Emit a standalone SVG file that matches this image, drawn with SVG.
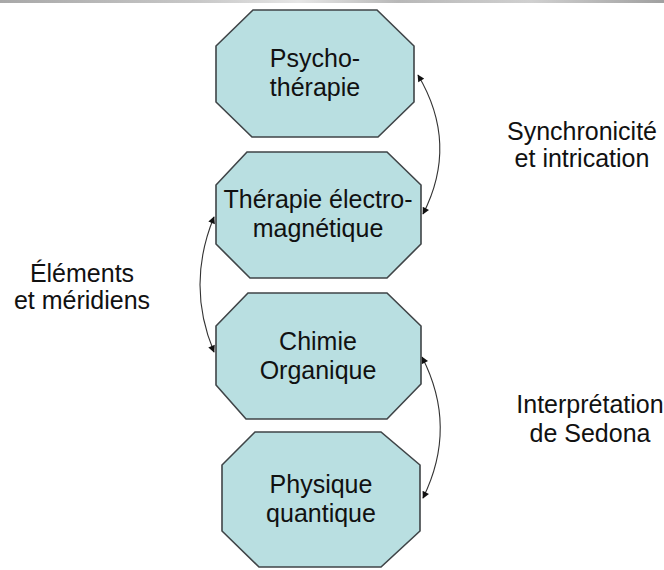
<svg xmlns="http://www.w3.org/2000/svg" width="664" height="570" viewBox="0 0 664 570">
<style>
.node{fill:#b9dfe1;stroke:#3f4447;stroke-width:1.6;stroke-linejoin:miter}
.t{font-family:"Liberation Sans",Arial,sans-serif;font-size:25px;fill:#111;text-anchor:middle}
.c{fill:none;stroke:#333;stroke-width:1.1}
</style>
<defs>
<linearGradient id="band" x1="0" x2="1" y1="0" y2="0">
<stop offset="0" stop-color="#a8a8a8"/>
<stop offset="0.3" stop-color="#c8c8c8"/>
<stop offset="0.45" stop-color="#e6e6e6"/>
<stop offset="0.6" stop-color="#b8b8b8"/>
<stop offset="0.8" stop-color="#d0d0d0"/>
<stop offset="1" stop-color="#a0a0a0"/>
</linearGradient>
<marker id="ah" viewBox="0 0 10 10" refX="9" refY="5" markerWidth="8" markerHeight="7" markerUnits="userSpaceOnUse" orient="auto-start-reverse">
<path d="M0,0 L10,5 L0,10 z" fill="#111"/>
</marker>
</defs>
<rect width="664" height="570" fill="#fff"/>
<rect x="0" y="0" width="664" height="3" fill="url(#band)"/>
<g id="connectors">
<path class="c" d="M418,75 Q459,144 423,214" marker-start="url(#ah)" marker-end="url(#ah)"/>
<path class="c" d="M214,217 Q186,285 214,352" marker-start="url(#ah)" marker-end="url(#ah)"/>
<path class="c" d="M422,357 Q458,427 423,498" marker-start="url(#ah)" marker-end="url(#ah)"/>
</g>
<g id="psychotherapie">
<polygon class="node" points="253,10 377,10 414,46 414,102 378,137 252,137 216,102 216,46"/>
<text class="t" x="315" y="67">Psycho-</text>
<text class="t" x="315" y="96">thérapie</text>
</g>
<g id="therapie-electromagnetique">
<polygon class="node" points="247,152 387,152 421,185 421,244 387,278 250,278 216,244 216,185"/>
<text class="t" x="318" y="208">Thérapie électro-</text>
<text class="t" x="318" y="237">magnétique</text>
</g>
<g id="chimie-organique">
<polygon class="node" points="248,293 387,293 421,326 421,384 387,419 246,419 216,385 216,326"/>
<text class="t" x="318" y="350">Chimie</text>
<text class="t" x="318" y="379">Organique</text>
</g>
<g id="physique-quantique">
<polygon class="node" points="255,432 381,432 420,465 420,531 381,567 259,567 222,531 222,465"/>
<text class="t" x="321" y="493">Physique</text>
<text class="t" x="321" y="522">quantique</text>
</g>
<g id="label-synchronicite">
<text class="t" x="582" y="140">Synchronicité</text>
<text class="t" x="582" y="167">et intrication</text>
</g>
<g id="label-elements">
<text class="t" x="82" y="282">Éléments</text>
<text class="t" x="82" y="309">et méridiens</text>
</g>
<g id="label-sedona">
<text class="t" x="590" y="413">Interprétation</text>
<text class="t" x="590" y="442">de Sedona</text>
</g>
</svg>
